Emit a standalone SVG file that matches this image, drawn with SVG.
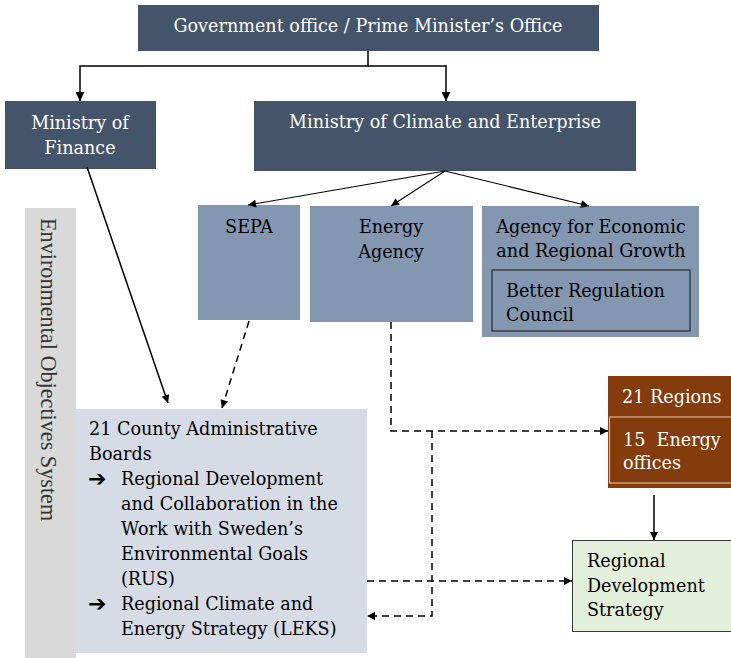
<svg xmlns="http://www.w3.org/2000/svg" width="731" height="658" viewBox="0 0 731 658">
  <style>
    .t { font-family: "DejaVu Serif", "Liberation Serif", serif; font-size: 17.6px; fill: #000; }
    .w { fill: #fff; }
    .mid { text-anchor: middle; }
    .dark { fill: #44546a; }
    .agency { fill: #8497b0; }
    .solid { fill: none; stroke: #000; stroke-width: 1.5; }
    .thin { fill: none; stroke: #000; stroke-width: 1.1; }
    .dash { fill: none; stroke: #000; stroke-width: 1.5; stroke-dasharray: 7 5; }
    .bullet { font-family: "DejaVu Sans", sans-serif; font-size: 22px; font-weight: bold; fill: #000; }
  </style>
  <defs>
    <marker id="ah" viewBox="0 0 10 10" refX="10" refY="5" markerWidth="10" markerHeight="9" markerUnits="userSpaceOnUse" orient="auto">
      <path d="M0,0 L10,5 L0,10 z" fill="#000"/>
    </marker>
    <marker id="ahs" viewBox="0 0 10 10" refX="10" refY="5" markerWidth="9" markerHeight="8" markerUnits="userSpaceOnUse" orient="auto">
      <path d="M0,0 L10,5 L0,10 z" fill="#000"/>
    </marker>
  </defs>

  <!-- side band -->
  <g id="env-objectives">
    <rect x="25" y="208" width="51" height="452" fill="#d9d9d9"/>
    <text transform="translate(41,218) rotate(90)" style="font-family:'Liberation Serif',serif;font-size:22.2px;fill:#333">Environmental Objectives System</text>
  </g>

  <g id="gov-office">
    <rect class="dark" x="138" y="5" width="461" height="46"/>
    <text class="t w mid" x="368" y="32">Government office / Prime Minister’s Office</text>
  </g>

  <g id="finance">
    <rect class="dark" x="5" y="101" width="151" height="68"/>
    <text class="t w mid" x="80" y="129">Ministry of</text>
    <text class="t w mid" x="80" y="154">Finance</text>
  </g>

  <g id="climate">
    <rect class="dark" x="254" y="101" width="382" height="70"/>
    <text class="t w mid" x="445" y="128">Ministry of Climate and Enterprise</text>
  </g>

  <g id="sepa">
    <rect class="agency" x="198" y="205" width="102" height="115"/>
    <text class="t mid" x="249" y="233">SEPA</text>
  </g>

  <g id="energy-agency">
    <rect class="agency" x="310" y="206" width="163" height="116"/>
    <text class="t mid" x="391" y="233">Energy</text>
    <text class="t mid" x="391" y="258">Agency</text>
  </g>

  <g id="growth-agency">
    <rect class="agency" x="482" y="206" width="217" height="131"/>
    <text class="t mid" x="591" y="233">Agency for Economic</text>
    <text class="t mid" x="591" y="257">and Regional Growth</text>
    <g id="better-regulation">
      <rect x="492" y="270" width="198" height="61" fill="none" stroke="#2b2b2b" stroke-width="1.2"/>
      <text class="t" x="506" y="297">Better Regulation</text>
      <text class="t" x="506" y="321">Council</text>
    </g>
  </g>

  <g id="county-boards">
    <rect x="76" y="409" width="291" height="244" fill="#d6dce5"/>
    <text class="t" x="89" y="435">21 County Administrative</text>
    <text class="t" x="89" y="460">Boards</text>
    <text class="bullet" x="88" y="486">➔</text>
    <text class="t" x="121" y="485">Regional Development</text>
    <text class="t" x="121" y="510">and Collaboration in the</text>
    <text class="t" x="121" y="535">Work with Sweden’s</text>
    <text class="t" x="121" y="560">Environmental Goals</text>
    <text class="t" x="121" y="585">(RUS)</text>
    <text class="bullet" x="88" y="611">➔</text>
    <text class="t" x="121" y="610">Regional Climate and</text>
    <text class="t" x="121" y="635">Energy Strategy (LEKS)</text>
  </g>

  <g id="regions">
    <rect x="608" y="376" width="130" height="112" fill="#843c0c"/>
    <text class="t w" x="622" y="403">21 Regions</text>
    <g id="energy-offices">
      <rect x="609.5" y="417" width="130" height="66" fill="none" stroke="#d8b49a" stroke-width="1.2"/>
      <text class="t w" x="623" y="446" xml:space="preserve">15  Energy</text>
      <text class="t w" x="623" y="468.5">offices</text>
    </g>
  </g>

  <g id="regional-strategy">
    <rect x="572.5" y="540.5" width="170" height="91" fill="#e2efda" stroke="#3a3a3a" stroke-width="1"/>
    <text class="t" x="587" y="567">Regional</text>
    <text class="t" x="587" y="592">Development</text>
    <text class="t" x="587" y="616">Strategy</text>
  </g>

  <g id="connectors">
    <path class="solid" d="M368,51 V66 H80 V101" marker-end="url(#ah)"/>
    <path class="solid" d="M368,66 H446 V101" marker-end="url(#ah)"/>
    <path class="thin" d="M445,171 L248,205" marker-end="url(#ahs)"/>
    <path class="thin" d="M445,171 L391,206" marker-end="url(#ahs)"/>
    <path class="thin" d="M445,171 L589,206" marker-end="url(#ahs)"/>
    <path class="solid" d="M87,167 L168,403" marker-end="url(#ahs)"/>
    <path class="dash" d="M249,321 L222,408" marker-end="url(#ahs)"/>
    <path class="dash" d="M391,322 V431 H608" marker-end="url(#ahs)"/>
    <path class="dash" d="M432,431 V616 H367" marker-end="url(#ahs)"/>
    <path class="dash" d="M367,581 H572" marker-end="url(#ahs)"/>
    <path class="solid" d="M654,495 V540" marker-end="url(#ahs)"/>
  </g>
</svg>
